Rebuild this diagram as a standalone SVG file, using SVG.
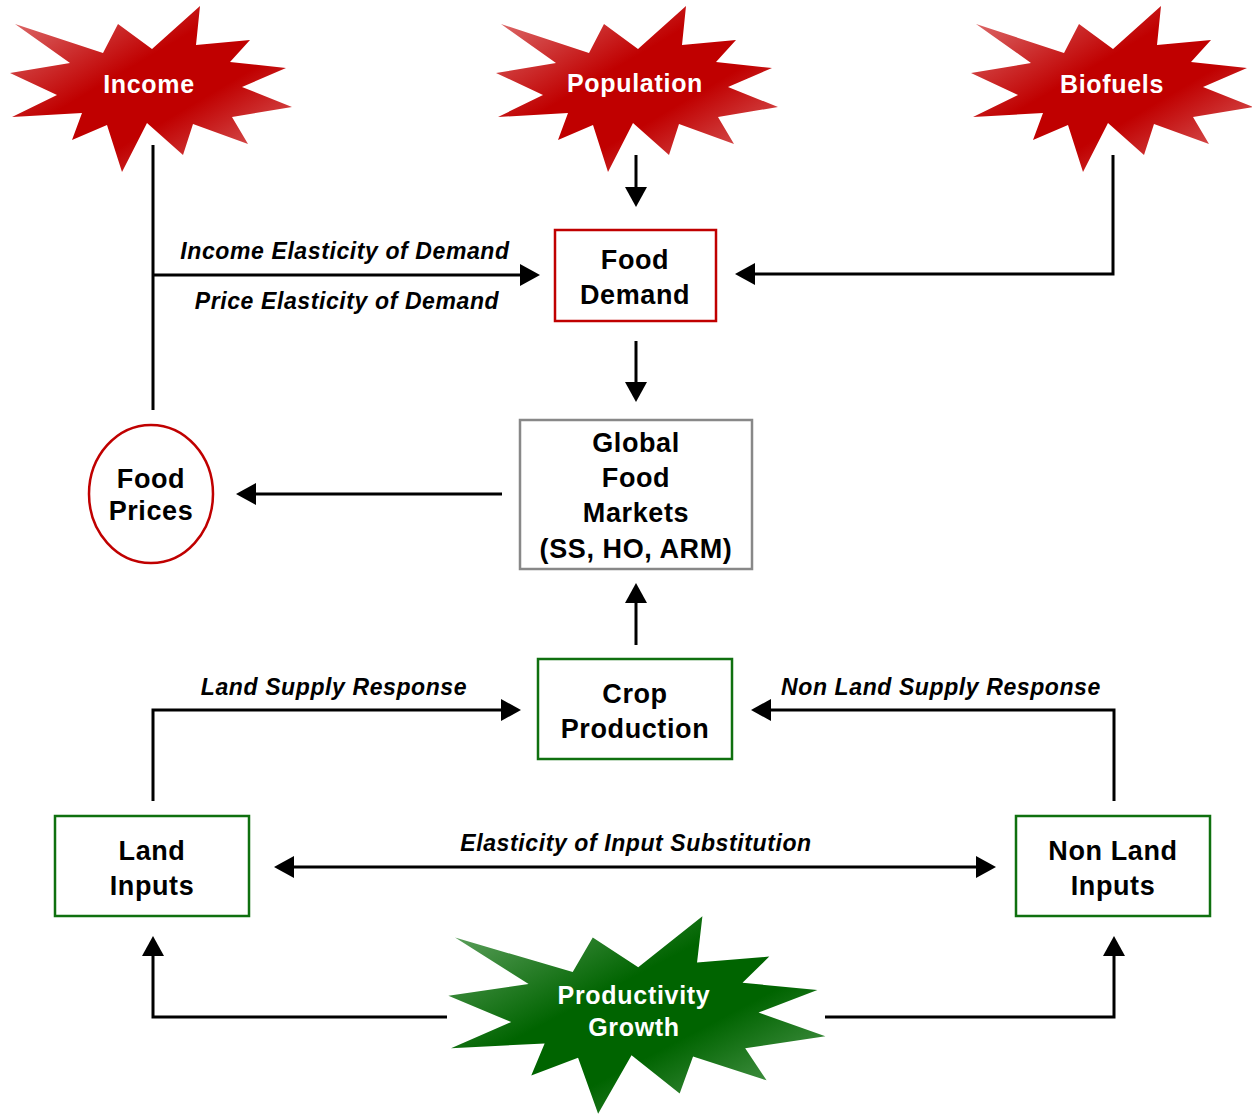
<svg xmlns="http://www.w3.org/2000/svg" width="1252" height="1116" viewBox="0 0 1252 1116">
<defs>
<style>
.conn{fill:none;stroke:#000;stroke-width:3}
.t{font-family:"Liberation Sans",Arial,sans-serif;font-weight:bold;font-size:27px;letter-spacing:0.6px;fill:#000;text-anchor:middle}
.st{font-family:"Liberation Sans",Arial,sans-serif;font-weight:bold;font-size:25px;letter-spacing:0.7px;fill:#fff;text-anchor:middle}
.lbl{font-family:"Liberation Sans",Arial,sans-serif;font-weight:bold;font-style:italic;font-size:23px;letter-spacing:0.6px;fill:#000;text-anchor:middle}
.red{fill:#fff;stroke:#c00000;stroke-width:2.5}
.gray{fill:#fff;stroke:#888;stroke-width:2.5}
.green{fill:#fff;stroke:#0f700f;stroke-width:2.5}
</style>
<linearGradient id="gRed" x1="0" y1="0" x2="1" y2="1">
<stop offset="0" stop-color="#e07878"/>
<stop offset="0.4" stop-color="#c00000"/>
<stop offset="0.62" stop-color="#c00000"/>
<stop offset="1" stop-color="#e07878"/>
</linearGradient>
<linearGradient id="gGreen" x1="0" y1="0" x2="1" y2="1">
<stop offset="0" stop-color="#6aa86a"/>
<stop offset="0.4" stop-color="#006400"/>
<stop offset="0.62" stop-color="#006400"/>
<stop offset="1" stop-color="#6aa86a"/>
</linearGradient>
<path id="star" d="M15,24 L103,53 L118,24 L152,49 L200,6 L196,45 L250,40 L230,62 L286,68 L242,87 L292,107 L232,117 L248,144 L193,124 L183,155 L147,123 L122,172 L107,125 L72,140 L82,113 L12,117 L57,95 L10,73 L70,63 Z"/>
<marker id="ah" viewBox="0 0 20 22" refX="2" refY="11" markerWidth="20" markerHeight="22" markerUnits="userSpaceOnUse" orient="auto-start-reverse">
<path d="M0,0 L20,11 L0,22 Z" fill="#000"/>
</marker>
</defs>
<rect width="1252" height="1116" fill="#fff"/>
<g id="connectors">
<path class="conn" d="M153,145 V410"/>
<path class="conn" d="M153,275 H522" marker-end="url(#ah)"/>
<path class="conn" d="M636,155 V189" marker-end="url(#ah)"/>
<path class="conn" d="M1113,155 V274 H753" marker-end="url(#ah)"/>
<path class="conn" d="M636,341 V384" marker-end="url(#ah)"/>
<path class="conn" d="M502,494 H254" marker-end="url(#ah)"/>
<path class="conn" d="M636,645 V601" marker-end="url(#ah)"/>
<path class="conn" d="M153,801 V710 H503" marker-end="url(#ah)"/>
<path class="conn" d="M1114,801 V710 H769" marker-end="url(#ah)"/>
<path class="conn" d="M292,867 H978" marker-start="url(#ah)" marker-end="url(#ah)"/>
<path class="conn" d="M447,1017 H153 V954" marker-end="url(#ah)"/>
<path class="conn" d="M825,1017 H1114 V954" marker-end="url(#ah)"/>
<text class="lbl" x="345" y="259">Income Elasticity of Demand</text>
<text class="lbl" x="347" y="309">Price Elasticity of Demand</text>
<text class="lbl" x="334" y="695">Land Supply Response</text>
<text class="lbl" x="941" y="695">Non Land Supply Response</text>
<text class="lbl" x="636" y="851">Elasticity of Input Substitution</text>
</g>
<g id="income">
<use href="#star" fill="url(#gRed)"/>
<text class="st" x="149" y="93">Income</text>
</g>
<g id="population">
<use href="#star" fill="url(#gRed)" transform="translate(486,0)"/>
<text class="st" x="635" y="92">Population</text>
</g>
<g id="biofuels">
<use href="#star" fill="url(#gRed)" transform="translate(961,0)"/>
<text class="st" x="1112" y="93">Biofuels</text>
</g>
<g id="food-demand">
<rect class="red" x="555" y="230" width="161" height="91"/>
<text class="t" x="635" y="269">Food</text>
<text class="t" x="635" y="304">Demand</text>
</g>
<g id="global-food-markets">
<rect class="gray" x="520" y="420" width="232" height="149"/>
<text class="t" x="636" y="452">Global</text>
<text class="t" x="636" y="487">Food</text>
<text class="t" x="636" y="522">Markets</text>
<text class="t" x="636" y="558">(SS, HO, ARM)</text>
</g>
<g id="food-prices">
<ellipse class="red" cx="151" cy="494" rx="62" ry="69"/>
<text class="t" x="151" y="488">Food</text>
<text class="t" x="151" y="520">Prices</text>
</g>
<g id="crop-production">
<rect class="green" x="538" y="659" width="194" height="100"/>
<text class="t" x="635" y="703">Crop</text>
<text class="t" x="635" y="738">Production</text>
</g>
<g id="land-inputs">
<rect class="green" x="55" y="816" width="194" height="100"/>
<text class="t" x="152" y="860">Land</text>
<text class="t" x="152" y="895">Inputs</text>
</g>
<g id="non-land-inputs">
<rect class="green" x="1016" y="816" width="194" height="100"/>
<text class="t" x="1113" y="860">Non Land</text>
<text class="t" x="1113" y="895">Inputs</text>
</g>
<g id="productivity-growth">
<use href="#star" fill="url(#gGreen)" transform="translate(435,909) scale(1.337,1.19)"/>
<text class="st" x="634" y="1004">Productivity</text>
<text class="st" x="634" y="1036">Growth</text>
</g>
</svg>
